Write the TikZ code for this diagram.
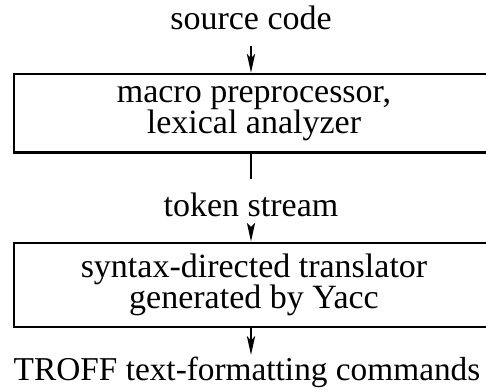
\documentclass[tikz,border=0pt]{standalone}
\usepackage{fontspec}
\setmainfont{Liberation Serif}
\usetikzlibrary{arrows.meta,positioning}

\begin{document}
\begin{tikzpicture}[
    x=0.75pt, y=-0.75pt,
    stage/.style={rectangle, draw=black, line width=2pt, align=center, minimum width=360pt, minimum height=60pt, inner sep=0pt, font=\fontsize{25.5}{23.5}\selectfont},
    lbl/.style={inner sep=0pt, font=\fontsize{25.5}{23}\selectfont},
    arrow/.style={-{Stealth[length=14pt, width=6pt, inset=3pt]}, line width=2pt},
    link/.style={line width=2pt}
]
    \useasboundingbox (0,0) rectangle (486,391);

    \node [lbl] (src) at (251,18) {source code};
    \node [stage, minimum height=59pt] (lex) at (254,113.5) {macro preprocessor,\\lexical analyzer};
    \node [lbl] (tok) at (251,205) {token stream};
    \node [stage, minimum height=63pt] (yacc) at (254,285) {syntax-directed translator\\generated by Yacc};
    \node [lbl, font=\fontsize{25}{23}\selectfont] (out) at (247,372) {TROFF text-formatting commands};

    \draw [arrow] ([yshift=-12pt]src.south) -- (lex.north -| src);
    \draw [link] (lex.south -| src) -- ([yshift=10pt]tok.north);
    \draw [arrow] ([yshift=-11pt]tok.south) -- (yacc.north -| tok);
    \draw [arrow] (yacc.south -| tok) -- ([yshift=1pt]out.north -| tok);
\end{tikzpicture}
\end{document}
